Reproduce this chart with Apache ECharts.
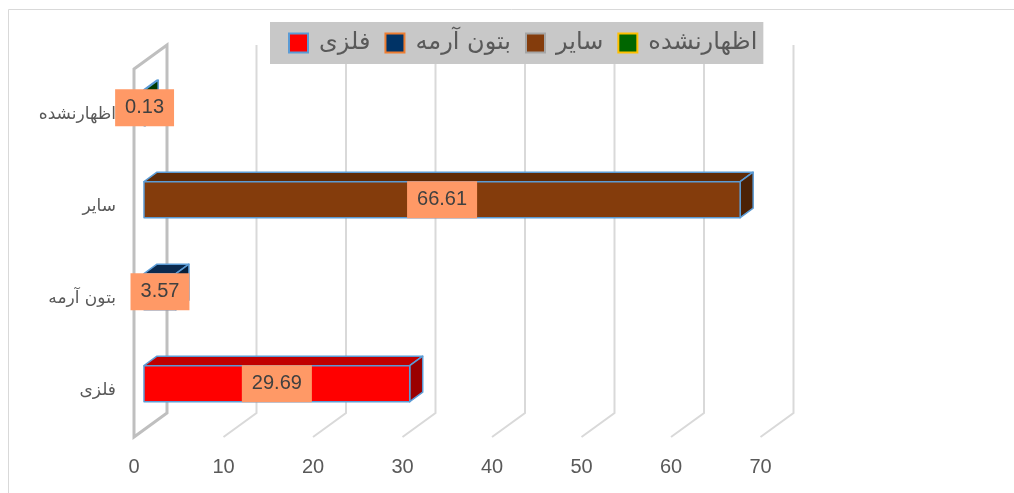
<!DOCTYPE html>
<html>
<head>
<meta charset="utf-8">
<script src="https://cdn.jsdelivr.net/npm/echarts@6/dist/echarts.min.js"></script>
<style>
  html, body { margin: 0; padding: 0; background: #fff; }
  #chart { width: 1014px; height: 493px; }
</style>
</head>
<body>
<div id="chart"></div>
<script>
// داده‌ها
const categories = ['فلزی', 'بتون آرمه', 'سایر', 'اظهارنشده']
const values = [29.69, 3.57, 66.61, 0.13]
const xTicks = [0, 10, 20, 30, 40, 50, 60, 70]

// رنگ وجه‌های جعبه (جلو / بالا / کنار) و حاشیه آیکون راهنما
const frontColors = ['#FF0000', '#003366', '#843C0C', '#006600']
const topColors = ['#C00000', '#0A2A4F', '#5F2B08', '#004D00']
const sideColors = ['#9A0000', '#061E3A', '#4C2206', '#003A00']
const legendBorders = ['#5B9BD5', '#ED7D31', '#A5A5A5', '#FFC000']

// عمق نمای سه‌بعدی (پیکسل)
const DEPTH_X = 33, DEPTH_Y = -24
const BAR_IN_X = 10, BAR_IN_Y = -7.3
const BAR_D_X = 13, BAR_D_Y = -9.5
const BAR_HALF = 18

const chart = echarts.init(document.getElementById('chart'))

function renderWall(params, api) {
  const t = api.value(0)
  const p = api.coord([t, 0])
  const cs = params.coordSys
  const top = cs.y, bottom = cs.y + cs.height
  const x = p[0], gx = x + DEPTH_X
  if (t === 0) {
    return {
      type: 'polygon',
      shape: { points: [[x, top], [gx, top + DEPTH_Y], [gx, bottom + DEPTH_Y], [x, bottom]] },
      style: { fill: 'none', stroke: '#BFBFBF', lineWidth: 3 }
    }
  }
  return {
    type: 'polyline',
    shape: { points: [[gx, top + DEPTH_Y], [gx, bottom + DEPTH_Y], [x, bottom]] },
    style: { fill: 'none', stroke: '#D9D9D9', lineWidth: 2 }
  }
}

function makeBarRenderer(i) {
  return function (params, api) {
    const v = api.value(0), c = api.value(1)
    const p0 = api.coord([0, c]), p1 = api.coord([v, c])
    const x0 = p0[0] + BAR_IN_X, x1 = p1[0] + BAR_IN_X
    const yc = p0[1] + BAR_IN_Y
    const yt = yc - BAR_HALF, yb = yc + BAR_HALF
    const edge = { stroke: '#5B9BD5', lineWidth: 1.5, lineJoin: 'round' }
    return {
      type: 'group',
      children: [
        {
          type: 'polygon',
          shape: { points: [[x0, yt], [x1, yt], [x1 + BAR_D_X, yt + BAR_D_Y], [x0 + BAR_D_X, yt + BAR_D_Y]] },
          style: Object.assign({ fill: topColors[i] }, edge)
        },
        {
          type: 'polygon',
          shape: { points: [[x1, yt], [x1 + BAR_D_X, yt + BAR_D_Y], [x1 + BAR_D_X, yb + BAR_D_Y], [x1, yb]] },
          style: Object.assign({ fill: sideColors[i] }, edge)
        },
        {
          type: 'rect',
          shape: { x: x0, y: yt, width: Math.max(x1 - x0, 0.5), height: yb - yt },
          style: Object.assign({ fill: frontColors[i] }, edge)
        },
        {
          type: 'text',
          z2: 10,
          style: {
            x: (x0 + x1) / 2, y: yc,
            text: v.toFixed(2),
            fill: '#404040',
            font: '20px "Liberation Sans", sans-serif',
            align: 'center', verticalAlign: 'middle',
            textAlign: 'center', textVerticalAlign: 'middle',
            backgroundColor: '#FF9966',
            padding: [9, 10, 8, 10]
          }
        }
      ]
    }
  }
}

const barSeries = categories.map((name, i) => ({
  name: name,
  type: 'custom',
  coordinateSystem: 'cartesian2d',
  renderItem: makeBarRenderer(i),
  encode: { x: 0, y: 1 },
  itemStyle: { color: frontColors[i] },
  data: [[values[i], i]],
  z: 3
}))

const option = {
  animation: false,
  backgroundColor: '#fff',
  graphic: [{
    type: 'rect',
    silent: true,
    shape: { x: 8.5, y: 9.5, width: 1100, height: 600 },
    style: { fill: 'none', stroke: '#D9D9D9', lineWidth: 1 }
  }],
  legend: {
    data: categories.map((n, i) => ({
      name: n,
      itemStyle: { color: frontColors[i], borderColor: legendBorders[i], borderWidth: 2 }
    })),
    icon: 'rect',
    left: 270,
    top: 22,
    backgroundColor: '#C8C8C8',
    padding: [9, 6, 9, 18],
    itemWidth: 19,
    itemHeight: 19,
    itemGap: 14,
    textStyle: { fontSize: 24, color: '#595959', fontFamily: 'DejaVu Sans', padding: [0, 0, 0, 6] }
  },
  grid: { left: 134, top: 69, width: 626.5, height: 368 },
  xAxis: {
    type: 'value',
    min: 0,
    max: 70,
    interval: 10,
    splitLine: { show: false },
    axisLine: { show: false },
    axisTick: { show: false },
    axisLabel: { margin: 20, fontSize: 20, color: '#595959', fontFamily: 'Liberation Sans' }
  },
  yAxis: {
    type: 'category',
    data: categories,
    axisLine: { show: false },
    axisTick: { show: false },
    splitLine: { show: false },
    axisLabel: { margin: 18, fontSize: 17, color: '#595959', fontFamily: 'DejaVu Sans' }
  },
  series: [{
    name: 'wall',
    type: 'custom',
    coordinateSystem: 'cartesian2d',
    renderItem: renderWall,
    encode: { x: 0, y: 1 },
    silent: true,
    data: xTicks.map(t => [t, 0]),
    z: 1
  }].concat(barSeries)
}

chart.setOption(option)
</script>
</body>
</html>
